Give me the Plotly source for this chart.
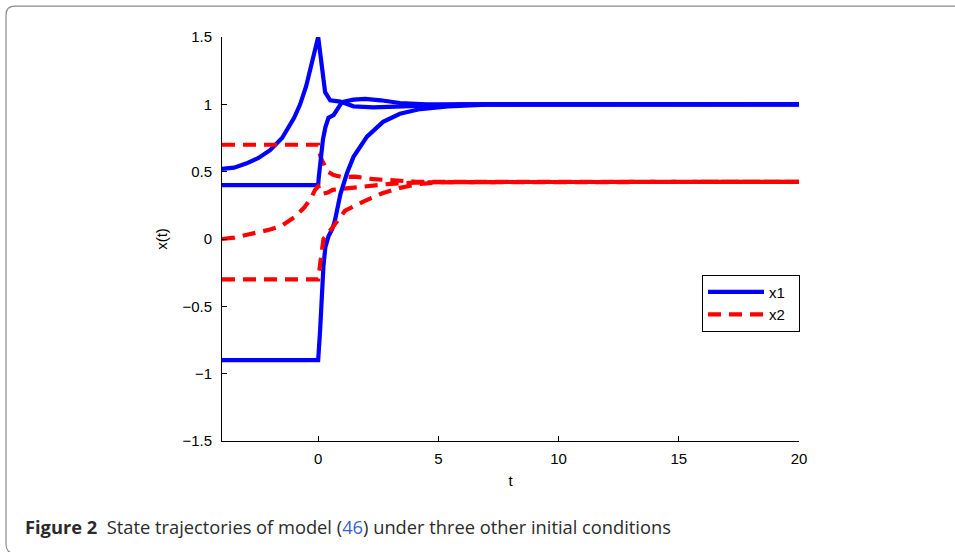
import plotly.graph_objects as go

# ---------------- data ----------------
# initial condition A
tA1 = [-4, -3.5, -3, -2.5, -2, -1.5, -1, -0.75, -0.5, -0.33, -0.15, 0, 0.29, 0.5, 0.92, 1.47, 2.3, 3.4, 4.5, 6, 20]
xA1 = [0.52, 0.53, 0.56, 0.60, 0.66, 0.75, 0.90, 1.0, 1.135, 1.26, 1.37, 1.5, 1.09, 1.03, 1.02, 0.985, 0.978, 0.985, 0.995, 1.0, 1.0]
tA2 = [-4, 0, 0.05, 0.15, 0.4, 0.64, 1.0, 1.54, 2.3, 3.2, 4.0, 5.0, 20]
xA2 = [0.70, 0.70, 0.64, 0.587, 0.50, 0.475, 0.46, 0.463, 0.444, 0.433, 0.426, 0.424, 0.424]

# initial condition B
tB1 = [-4, 0, 0.02, 0.1, 0.2, 0.3, 0.43, 0.64, 0.78, 0.99, 1.47, 1.96, 2.6, 3.4, 4.5, 20]
xB1 = [0.4, 0.4, 0.45, 0.6, 0.74, 0.83, 0.90, 0.92, 0.96, 1.017, 1.035, 1.04, 1.03, 1.01, 1.0, 1.0]
tB2 = [-4, -3.5, -3, -2.5, -2, -1.5, -1, -0.6, -0.3, -0.13, 0, 0.15, 0.4, 0.6, 1.33, 2.16, 3.0, 4.0, 5.0, 20]
xB2 = [0.0, 0.01, 0.03, 0.05, 0.07, 0.10, 0.16, 0.23, 0.30, 0.365, 0.39, 0.335, 0.345, 0.365, 0.377, 0.396, 0.41, 0.418, 0.422, 0.424]

# initial condition C
tC1 = [-4, 0, 0.08, 0.15, 0.22, 0.3, 0.43, 0.6, 0.7, 0.92, 1.2, 1.47, 2.03, 2.7, 3.4, 4.25, 5.4, 7, 20]
xC1 = [-0.9, -0.9, -0.68, -0.42, -0.2, -0.06, 0.02, 0.08, 0.14, 0.33, 0.49, 0.61, 0.76, 0.87, 0.93, 0.965, 0.985, 0.998, 1.0]
tC2 = [-4, 0, 0.08, 0.18, 0.22, 0.57, 1.12, 1.9, 2.67, 3.4, 4.25, 5.1, 6, 20]
xC2 = [-0.3, -0.3, -0.19, -0.03, 0.0, 0.08, 0.21, 0.28, 0.34, 0.38, 0.41, 0.42, 0.423, 0.424]

x_ticks = [0, 5, 10, 15, 20]
y_ticks = [-1.5, -1, -0.5, 0, 0.5, 1, 1.5]
y_tick_labels = ["\u22121.5", "\u22121", "\u22120.5", "0", "0.5", "1", "1.5"]
series_names = ["x1", "x2"]

BLUE = "#0000ff"
RED = "#ff0000"
AX_FONT = "Liberation Sans, Arial, sans-serif"

fig = go.Figure()
curves = [(tA1, xA1, 0), (tA2, xA2, 1), (tB1, xB1, 0), (tB2, xB2, 1), (tC1, xC1, 0), (tC2, xC2, 1)]
shown = set()
for t, x, k in curves:
    fig.add_trace(go.Scatter(
        x=t, y=x, mode="lines",
        name=series_names[k] + "\u00a0\u00a0", legendgroup=series_names[k],
        showlegend=k not in shown,
        line=dict(color=BLUE if k == 0 else RED, width=4.2,
                  dash="solid" if k == 0 else "13px,8px"),
    ))
    shown.add(k)

W, H = 955, 552
L, R, T, B = 222, 156, 37, 110.5


def px(xp):
    return (xp - L) / (W - L - R)


def py(yp):
    return (H - B - yp) / (H - T - B)


r = 9
x0, y0 = 6, 6
border = (f"M {px(x0 + r)},{py(H + 2)} Q {px(x0)},{py(H + 2)} {px(x0)},{py(H + 2 - r)} "
          f"L {px(x0)},{py(y0 + r)} Q {px(x0)},{py(y0)} {px(x0 + r)},{py(y0)} "
          f"L {px(W + 5)},{py(y0)}")

fig.update_layout(
    width=W, height=H,
    margin=dict(l=L, r=R, t=T, b=B),
    paper_bgcolor="white", plot_bgcolor="white",
    font=dict(family=AX_FONT, size=14, color="black"),
    showlegend=True,
    legend=dict(
        x=px(702), y=py(275), xanchor="left", yanchor="top",
        bordercolor="black", borderwidth=1, bgcolor="white",
        font=dict(family=AX_FONT, size=15, color="black"),
        itemwidth=56, tracegroupgap=0,
    ),
    xaxis=dict(
        range=[-4, 20], tickvals=x_ticks, ticktext=[str(v) for v in x_ticks],
        showgrid=False, zeroline=False, showline=True, linecolor="black", linewidth=1,
        ticks="inside", ticklen=5, tickcolor="black", ticklabelstandoff=4,
        title=dict(text="t", standoff=9, font=dict(family=AX_FONT, size=15)),
        tickfont=dict(family=AX_FONT, size=15),
    ),
    yaxis=dict(
        range=[-1.5, 1.5], tickvals=y_ticks, ticktext=y_tick_labels,
        showgrid=False, zeroline=False, showline=True, linecolor="black", linewidth=1,
        ticks="inside", ticklen=5, tickcolor="black", ticklabelstandoff=6,
        title=dict(text="x(t)", standoff=11, font=dict(family=AX_FONT, size=15)),
        tickfont=dict(family=AX_FONT, size=15),
    ),
    shapes=[dict(type="path", xref="paper", yref="paper", path=border,
                 line=dict(color="#8a8a8a", width=1.2), layer="below")],
    annotations=[dict(
        xref="paper", yref="paper", x=px(23), y=py(527), xanchor="left", yanchor="middle",
        showarrow=False, align="left",
        text=("<b>Figure 2</b>\u00a0\u00a0State trajectories of model (<span style='color:#3a5fcd'>46</span>)"
              " under three other initial conditions"),
        font=dict(family="Open Sans, sans-serif", size=18.3, color="#2b2b2b"),
    )],
)

fig.write_html("out.html", config={"displayModeBar": False},
               post_script="document.body.style.margin='0';")
